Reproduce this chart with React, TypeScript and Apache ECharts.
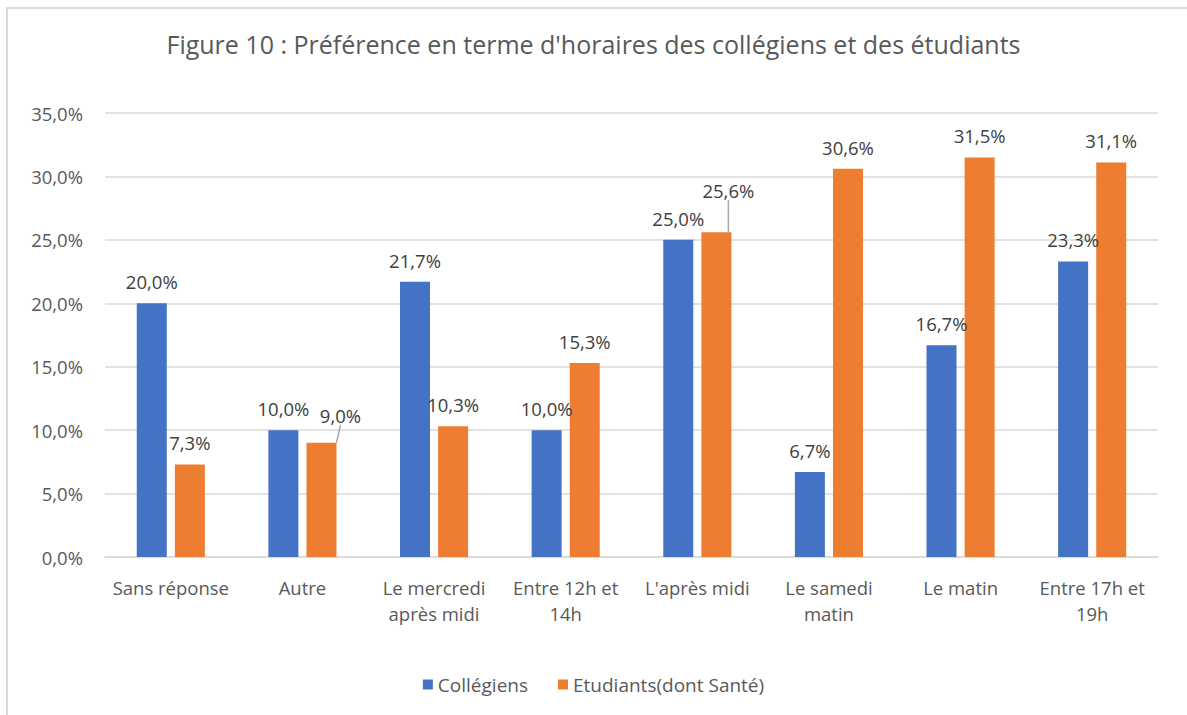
import React, { useEffect, useRef } from "react";
import * as echarts from "echarts";

const categories = [
  "Sans réponse",
  "Autre",
  "Le mercredi\naprès midi",
  "Entre 12h et\n14h",
  "L'après midi",
  "Le samedi\nmatin",
  "Le matin",
  "Entre 17h et\n19h",
];
const collegiens = [20.0, 10.0, 21.7, 10.0, 25.0, 6.7, 16.7, 23.3];
const etudiants = [7.3, 9.0, 10.3, 15.3, 25.6, 30.6, 31.5, 31.1];
const seriesNames = ["Collégiens", "Etudiants(dont Santé)"];
const titleText = "Figure 10 : Préférence en terme d'horaires des collégiens et des étudiants";
// indices of orange labels that are pulled aside with a leader line
const movedLabels = [1, 4];

const fmt = (v: number) => v.toFixed(1).replace(".", ",") + "%";
const FONT = "'Open Sans', 'Noto Sans', sans-serif";

export default function App() {
  const ref = useRef<HTMLDivElement>(null);
  useEffect(() => {
    if (!ref.current) return;
    const chart = echarts.init(ref.current, undefined, { renderer: "svg" });
    const labelStyle = {
      show: true,
      position: "top" as const,
      distance: 12,
      fontSize: 18.5,
      color: "#404040",
      fontFamily: FONT,
      formatter: (p: any) => fmt(p.value),
    };
    chart.setOption({
      animation: false,
      backgroundColor: "#ffffff",
      textStyle: { fontFamily: FONT },
      title: {
        text: titleText,
        left: "center",
        top: 26,
        textStyle: { fontSize: 25, fontWeight: "normal", color: "#595959", fontFamily: FONT },
      },
      graphic: [
        {
          type: "line",
          shape: { x1: 6, y1: 8, x2: 1187, y2: 8 },
          style: { stroke: "#d9d9d9", lineWidth: 2 },
          silent: true,
        },
        {
          type: "line",
          shape: { x1: 7, y1: 8, x2: 7, y2: 715 },
          style: { stroke: "#d9d9d9", lineWidth: 2 },
          silent: true,
        },
      ],
      legend: {
        bottom: 16,
        left: "center",
        itemWidth: 10,
        itemHeight: 10,
        itemGap: 30,
        icon: "rect",
        textStyle: { fontSize: 19, color: "#595959", fontFamily: FONT },
        data: seriesNames,
      },
      grid: { left: 105, right: 29, top: 113, bottom: 158, containLabel: false },
      xAxis: {
        type: "category",
        data: categories,
        axisLine: { lineStyle: { color: "#d9d9d9", width: 1.5 } },
        axisTick: { show: false },
        axisLabel: {
          fontSize: 18.5,
          color: "#595959",
          margin: 17,
          lineHeight: 26,
          interval: 0,
          fontFamily: FONT,
        },
      },
      yAxis: {
        type: "value",
        min: 0,
        max: 35,
        interval: 5,
        axisLine: { show: false },
        axisTick: { show: false },
        splitLine: { lineStyle: { color: "#d9d9d9", width: 1.5 } },
        axisLabel: {
          fontSize: 18.5,
          color: "#595959",
          margin: 22,
          fontFamily: FONT,
          formatter: (v: number) => fmt(v),
        },
      },
      series: [
        {
          name: seriesNames[0],
          type: "bar",
          data: collegiens,
          barWidth: 30,
          barGap: "27%",
          barCategoryGap: "48%",
          itemStyle: { color: "#4472C4" },
          label: labelStyle,
        },
        {
          name: seriesNames[1],
          type: "bar",
          data: etudiants.map((v, i) =>
            movedLabels.includes(i)
              ? { value: v, labelLine: { show: true, lineStyle: { color: "#a6a6a6", width: 1.5 } } }
              : { value: v }
          ),
          barWidth: 30,
          itemStyle: { color: "#ED7D31" },
          label: labelStyle,
        },
      ],
      labelLayout: (p: any) => {
        if (p.seriesIndex === 1 && p.dataIndex === 1) return { dx: 19, dy: -6 };
        if (p.seriesIndex === 1 && p.dataIndex === 4) return { dx: 12, dy: -20 };
        return {};
      },
    });
    return () => chart.dispose();
  }, []);
  return (
    <div
      ref={ref}
      style={{ position: "fixed", left: 0, top: 0, width: 1187, height: 715 }}
    />
  );
}
